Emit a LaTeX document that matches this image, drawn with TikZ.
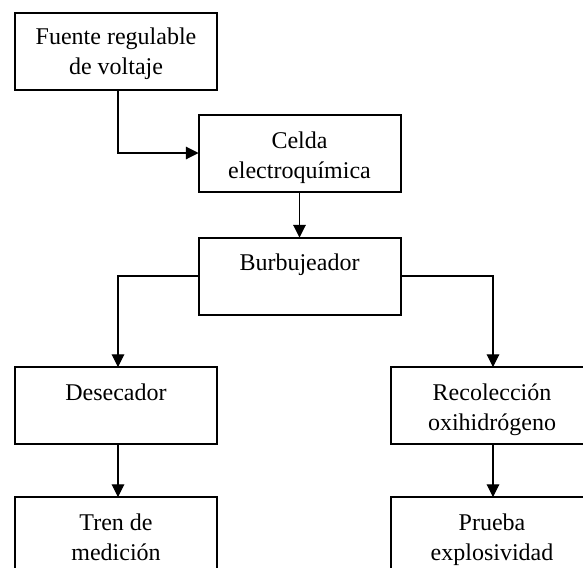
\documentclass[tikz,border=0pt]{standalone}
\usepackage{fontspec}
\setmainfont{Liberation Serif}
\usetikzlibrary{arrows.meta}
\begin{document}
\begin{tikzpicture}[x=0.75pt,y=-0.75pt,
  box/.style={draw=black,line width=1.5pt,minimum width=202*0.75pt,minimum height=77*0.75pt,inner sep=0pt,outer sep=0pt},
  lbl/.style={anchor=north,align=center,font=\fontsize{18}{22.2}\selectfont,inner sep=0pt},
  conn/.style={draw=black,line width=0.8pt,-{Triangle[length=9.5pt,width=9.5pt]}}]
\useasboundingbox (0,0) rectangle (583,568);
\begin{scope}
\clip (0,0) rectangle (583,568);
\node[box] (f) at (116,51) {};
\node[box] (c) at (299.5,153) {};
\node[box] (b) at (299.5,276) {};
\node[box] (d) at (116,405.5) {};
\node[box] (r) at (492,405.5) {};
\node[box] (t) at (116,535.5) {};
\node[box] (p) at (492,535.5) {};
\end{scope}
\node[lbl] (ft) at (116,28) {Fuente regulable\\de voltaje};
\node[lbl] (ct) at (299.5,132) {Celda\\electroquímica};
\node[lbl] (bt) at (299.5,254) {Burbujeador};
\node[lbl] (dt) at (116,384) {Desecador};
\node[lbl] (rt) at (492,384) {Recolección\\oxihidrógeno};
\node[lbl] (tt) at (116,514) {Tren de\\medición};
\node[lbl] (pt) at (492,514) {Prueba\\explosividad};
\draw[conn] (f.south -| 118,0) |- (c.west);
\draw[conn] (c.south) -- (b.north);
\draw[conn] (b.west) -| (d.north -| 118,0);
\draw[conn] (b.east) -| (r.north -| 493,0);
\draw[conn] (d.south -| 118,0) -- (t.north -| 118,0);
\draw[conn] (r.south -| 493,0) -- (p.north -| 493,0);
\end{tikzpicture}
\end{document}
